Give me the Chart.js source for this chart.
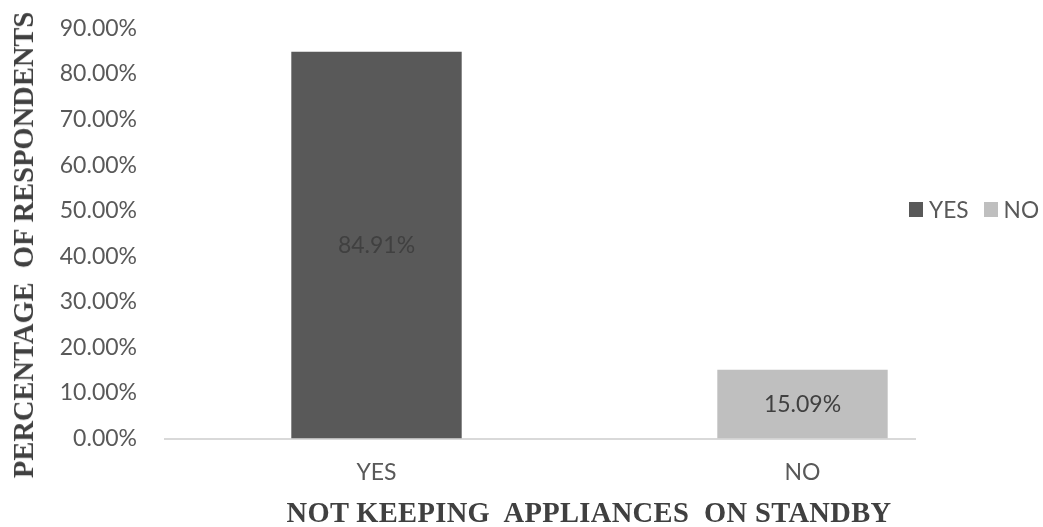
<!DOCTYPE html>
<html>
<head>
<meta charset="utf-8">
<title>Not keeping appliances on standby</title>
<script src="https://cdn.jsdelivr.net/npm/chart.js@4.4.0/dist/chart.umd.min.js"></script>
<style>
  html, body { margin: 0; padding: 0; background: #ffffff; }
  #wrap { position: relative; width: 1043px; height: 527px; overflow: hidden; background: #ffffff; }
  #chart { position: absolute; left: 0; top: 0; }
  .axis-title {
    position: absolute;
    font-family: "Liberation Serif", "Times New Roman", serif;
    font-weight: bold;
    font-size: 28.5px;
    line-height: 28px;
    color: #404040;
    white-space: pre;
  }
  #ytitle { left: 23.5px; top: 244.5px; transform: translate(-50%, -50%) rotate(-90deg); }
  #xtitle { left: 589px; top: 498.5px; transform: translateX(-50%); letter-spacing: 0.35px; }
  #legend {
    position: absolute; left: 909px; top: 196.5px;
    display: flex; align-items: center;
    font-family: Lato, sans-serif; font-size: 22.7px; line-height: 26px; color: #595959;
  }
  #legend .item { display: flex; align-items: center; margin-right: 15px; }
  #legend .swatch { width: 14px; height: 15px; margin-right: 6px; }
</style>
</head>
<body>
<div id="wrap">
  <canvas id="chart" width="1043" height="527"></canvas>
  <div id="ytitle" class="axis-title">PERCENTAGE  OF RESPONDENTS</div>
  <div id="xtitle" class="axis-title">NOT KEEPING  APPLIANCES  ON STANDBY</div>
  <div id="legend"></div>
</div>
<script>
// Answers and their share of respondents (%)
const categories = ['YES', 'NO'];
const shares = [84.91, 15.09];
const barColors = ['#595959', '#bfbfbf'];
// Value-axis tick marks (%)
const yTickValues = [0, 10, 20, 30, 40, 50, 60, 70, 80, 90];

const pct = (v) => v.toFixed(2) + '%';
const tickFont = { family: 'Lato', size: 23 };

// Writes each bar's value in the middle of the bar
const valueLabels = {
  id: 'valueLabels',
  afterDatasetsDraw(chart) {
    const ctx = chart.ctx;
    ctx.save();
    ctx.font = '23px Lato';
    ctx.fillStyle = '#404040';
    ctx.textAlign = 'center';
    ctx.textBaseline = 'middle';
    chart.data.datasets.forEach((ds, di) => {
      chart.getDatasetMeta(di).data.forEach((bar, j) => {
        ctx.fillText(pct(ds.data[j].y), bar.x, (bar.y + bar.base) / 2);
      });
    });
    ctx.restore();
  }
};

Chart.defaults.font.family = 'Lato';
Chart.defaults.color = '#595959';

const chart = new Chart(document.getElementById('chart'), {
  type: 'bar',
  data: {
    datasets: categories.map((name, i) => ({
      label: name,
      data: [{ x: i, y: shares[i] }],
      backgroundColor: barColors[i],
      borderWidth: 0,
      grouped: false,
      categoryPercentage: 1,
      barPercentage: 0.4
    }))
  },
  plugins: [valueLabels],
  options: {
    responsive: false,
    animation: false,
    devicePixelRatio: 1,
    layout: { padding: { left: 0, right: 128, top: 28.5, bottom: 0 } },
    plugins: {
      legend: { display: false },
      tooltip: { enabled: false }
    },
    scales: {
      x: {
        type: 'linear',
        offset: false,
        bounds: 'data',
        min: -0.4965,
        max: 1.2641,
        grid: { display: false, offset: false, drawTicks: false },
        border: { display: true, color: '#d9d9d9', width: 2 },
        afterBuildTicks: (scale) => { scale.ticks = categories.map((_, i) => ({ value: i })); },
        afterFit: (scale) => { scale.height = 88.5; },
        ticks: {
          padding: 20,
          font: tickFont,
          color: '#595959',
          callback: (v) => categories[v]
        }
      },
      y: {
        min: 0,
        max: 90,
        grid: { display: false, drawTicks: true, tickLength: 28 },
        border: { display: false },
        afterBuildTicks: (scale) => { scale.ticks = yTickValues.map((v) => ({ value: v })); },
        afterFit: (scale) => { scale.width = 165; },
        ticks: {
          padding: 0,
          font: tickFont,
          color: '#595959',
          callback: (v) => pct(v)
        }
      }
    }
  }
});

// Legend laid out in one row beside the plot
const legend = document.getElementById('legend');
chart.data.datasets.forEach((ds) => {
  const item = document.createElement('span');
  item.className = 'item';
  const sw = document.createElement('span');
  sw.className = 'swatch';
  sw.style.background = ds.backgroundColor;
  const txt = document.createElement('span');
  txt.textContent = ds.label;
  item.appendChild(sw);
  item.appendChild(txt);
  legend.appendChild(item);
});
</script>
</body>
</html>
